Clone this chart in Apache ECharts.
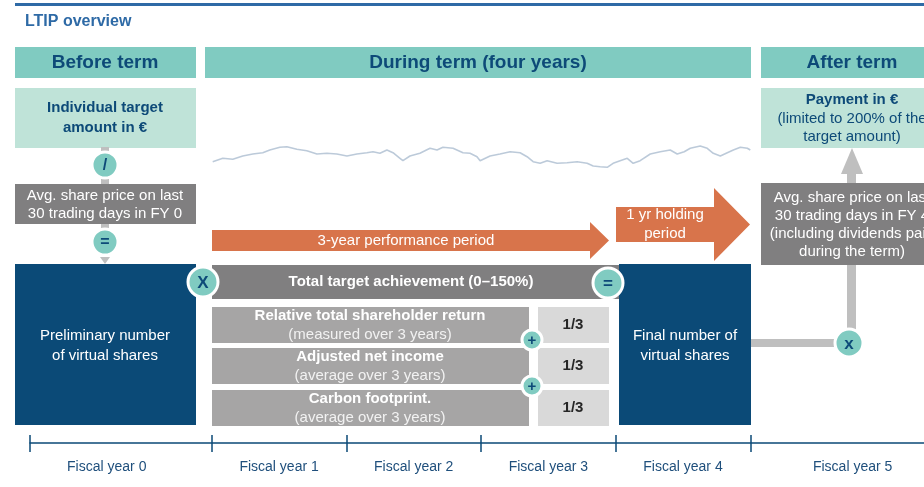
<!DOCTYPE html>
<html>
<head>
<meta charset="utf-8">
<script src="https://cdn.jsdelivr.net/npm/echarts@6/dist/echarts.min.js"></script>
<style>
  html, body { margin: 0; padding: 0; background: #fff; }
  #chart { width: 924px; height: 487px; }
</style>
</head>
<body>
<div id="chart"></div>
<script>
// timeline: fiscal years, edges in years from start of FY 1
var fiscalYears = ['Fiscal year 0', 'Fiscal year 1', 'Fiscal year 2', 'Fiscal year 3', 'Fiscal year 4', 'Fiscal year 5'];
var yearEdges = [-1.56, 0, 1, 2, 3, 4, 5.52];
var axisMin = -1.35, axisMax = 5.29;

// share price sketch over the four year term (time in years, level in arbitrary units)
var priceTime = [0.007, 0.082, 0.156, 0.230, 0.305, 0.379, 0.431, 0.506, 0.558, 0.632, 0.706, 0.781, 0.855, 0.929,
  1.004, 1.078, 1.152, 1.197, 1.249, 1.301, 1.346, 1.398, 1.420, 1.472, 1.546, 1.621, 1.673, 1.717, 1.792, 1.866, 1.918, 1.970,
  1.993, 2.067, 2.141, 2.216, 2.290, 2.342, 2.387, 2.439, 2.491, 2.565, 2.639, 2.714, 2.788, 2.833, 2.885, 2.937, 2.981,
  3.033, 3.086, 3.130, 3.182, 3.257, 3.331, 3.405, 3.457, 3.509, 3.554, 3.628, 3.680, 3.725, 3.777, 3.829, 3.874, 3.926, 3.978, 4.0];
var priceLevel = [13.3, 16.7, 15.7, 19, 21, 22.3, 25, 27.7, 28.3, 25.7, 24.3, 21, 21.7, 21,
  19, 21, 22.3, 23.3, 21.7, 25, 22.3, 16.7, 14.3, 19, 21.7, 26.7, 25, 27.7, 26.7, 22.3, 21.7, 18.3,
  14.3, 19, 21, 23.3, 22.3, 18.3, 13.3, 11.7, 14.3, 11.7, 12.3, 13.3, 11.7, 9, 8.3, 7.7, 11.7,
  14.3, 16.7, 11.7, 14.3, 21, 23.3, 25, 21, 23.3, 26.7, 29, 26.7, 21.7, 19, 22.3, 25, 27.7, 26.7, 25];

var labelAt = [];
for (var i = 0; i < fiscalYears.length; i++) labelAt.push((yearEdges[i] + yearEdges[i + 1]) / 2);
var tickAt = yearEdges.map(function (e) { return Math.max(e, axisMin); })
  .filter(function (e) { return e <= axisMax; });

var FONT = '"Liberation Sans", Arial, sans-serif';
var BODY = '15px ' + FONT;
var BOLD = 'bold 15px ' + FONT;
var HEAD = 'bold 19px ' + FONT;
var DARK = '#0d4a78';
var TEAL = '#80cbc1';
var PALE = '#bfe3d8';
var GRAY = '#807f80';
var LGRAY = '#a6a5a5';
var CELL = '#d9d9d9';
var NAVY = '#0b4a77';
var ORANGE = '#d8744b';
var LINK = '#bfbfbf';

var g = [];
function box(x, y, w, h, fill) {
  g.push({ type: 'rect', shape: { x: x, y: y, width: w, height: h }, style: { fill: fill } });
}
function txt(x, y, s, font, fill, lh) {
  g.push({ type: 'text', z: 10, style: { text: s, x: x, y: y, font: font, fill: fill,
    align: 'center', verticalAlign: 'middle', lineHeight: lh || 18 } });
}
function dot(cx, cy, r, s, size) {
  g.push({ type: 'circle', z: 20, shape: { cx: cx, cy: cy, r: r }, style: { fill: TEAL, stroke: '#fff', lineWidth: 3 } });
  g.push({ type: 'text', z: 21, style: { text: s, x: cx, y: cy + 1, font: 'bold ' + size + 'px ' + FONT, fill: DARK,
    align: 'center', verticalAlign: 'middle' } });
}
function poly(points, fill) {
  g.push({ type: 'polygon', shape: { points: points }, style: { fill: fill } });
}

// title
box(15, 3, 909, 3, '#2e6aa6');
g.push({ type: 'text', style: { text: 'LTIP overview', x: 25, y: 22, font: 'bold 16px ' + FONT, fill: '#2e6aa6', verticalAlign: 'middle' } });

// headers
box(15, 47, 181, 31, TEAL);
box(205, 47, 546, 31, TEAL);
box(761, 47, 182, 31, TEAL);
txt(105, 63, 'Before term', HEAD, DARK);
txt(478, 63, 'During term (four years)', HEAD, DARK);
txt(852, 63, 'After term', HEAD, DARK);

// before term column
box(15, 88, 181, 60, PALE);
txt(105, 118, 'Individual target\namount in €', BOLD, DARK, 20);
box(101, 147, 8, 40, LINK);
box(101, 222, 8, 12, LINK);
box(15, 184, 181, 40, GRAY);
txt(105, 205, 'Avg. share price on last\n30 trading days in FY 0', BODY, '#fff', 18);
dot(105, 165, 13, '/', 16);
dot(105, 242, 13, '=', 16);
poly([[100, 257], [110, 257], [105, 264]], LINK);
box(15, 264, 181, 161, NAVY);
txt(105, 346, 'Preliminary number\nof virtual shares', BODY, '#fff', 20);

// during term
poly([[212, 230], [590, 230], [590, 222], [609, 240.5], [590, 259], [590, 251], [212, 251]], ORANGE);
txt(406, 241, '3-year performance period', BODY, '#fff');
poly([[616, 207], [714, 207], [714, 188], [750, 224.5], [714, 261], [714, 242], [616, 242]], ORANGE);
txt(665, 224, '1 yr holding\nperiod', BODY, '#fff', 19);

box(212, 265, 410, 34, GRAY);
txt(411, 282, 'Total target achievement (0–150%)', BOLD, '#fff');

var rowsY = [307, 348, 390];
var rowHead = ['Relative total shareholder return', 'Adjusted net income', 'Carbon footprint.'];
var rowSub = ['(measured over 3 years)', '(average over 3 years)', '(average over 3 years)'];
rowsY.forEach(function (y, k) {
  box(212, y, 317, 36, LGRAY);
  box(538, y, 71, 36, CELL);
  txt(370, y + 9, rowHead[k], BOLD, '#fff');
  txt(370, y + 28, rowSub[k], BODY, '#f2f2f2');
  txt(573, y + 18, '1/3', BOLD, '#262626');
});
dot(532, 340, 10, '+', 15);
dot(532, 386, 10, '+', 15);

box(619, 264, 132, 161, NAVY);
txt(685, 346, 'Final number of\nvirtual shares', BODY, '#fff', 20);
dot(203, 282, 15, 'X', 17);
dot(608, 283, 15, '=', 17);

// after term
box(761, 88, 182, 60, PALE);
txt(852, 100, 'Payment in €', BOLD, DARK);
txt(852, 128, '(limited to 200% of the\ntarget amount)', BODY, DARK, 18);
box(847, 170, 9, 20, LINK);
poly([[841, 174], [852, 148], [863, 174]], LINK);
box(761, 183, 182, 82, GRAY);
txt(852, 225, 'Avg. share price on last\n30 trading days in FY 4\n(including dividends paid\nduring the term)', BODY, '#fff', 18);
box(847, 265, 9, 70, LINK);
box(751, 339, 90, 8, LINK);
dot(849, 343, 14, 'x', 17);

var chart = echarts.init(document.getElementById('chart'), null, { renderer: 'canvas' });
chart.setOption({
  animation: false,
  backgroundColor: '#fff',
  graphic: g,
  grid: [
    { left: 30, right: 0, top: 140, height: 30 },
    { left: 30, right: 0, top: 400, height: 43 }
  ],
  xAxis: [
    { gridIndex: 0, type: 'value', min: axisMin, max: axisMax, show: false },
    {
      gridIndex: 1, type: 'value', min: axisMin, max: axisMax, position: 'bottom',
      splitLine: { show: false },
      axisLine: { lineStyle: { color: NAVY, width: 1.5 } },
      axisTick: { customValues: tickAt, length: 9, lineStyle: { color: NAVY, width: 1.5 } },
      axisLabel: {
        customValues: labelAt, margin: 17, color: '#1f4f7c', fontSize: 14,
        fontFamily: '"Liberation Sans Narrow", "Liberation Sans", Arial',
        formatter: function (v) {
          for (var i = 0; i < labelAt.length; i++) if (Math.abs(labelAt[i] - v) < 1e-6) return fiscalYears[i];
          return '';
        }
      }
    },
    {
      gridIndex: 1, type: 'value', min: axisMin, max: axisMax, position: 'bottom',
      splitLine: { show: false }, axisLine: { show: false }, axisLabel: { show: false },
      axisTick: { customValues: tickAt, inside: true, length: 8, lineStyle: { color: NAVY, width: 1.5 } }
    }
  ],
  yAxis: [
    { gridIndex: 0, type: 'value', min: 5, max: 35, show: false },
    { gridIndex: 1, type: 'value', min: 0, max: 1, show: false }
  ],
  series: [
    {
      type: 'line', xAxisIndex: 0, yAxisIndex: 0, symbol: 'none',
      lineStyle: { color: '#98adc4', width: 1.6, opacity: 0.65 },
      data: priceTime.map(function (t, i) { return [t, priceLevel[i]]; })
    }
  ]
});
</script>
</body>
</html>
